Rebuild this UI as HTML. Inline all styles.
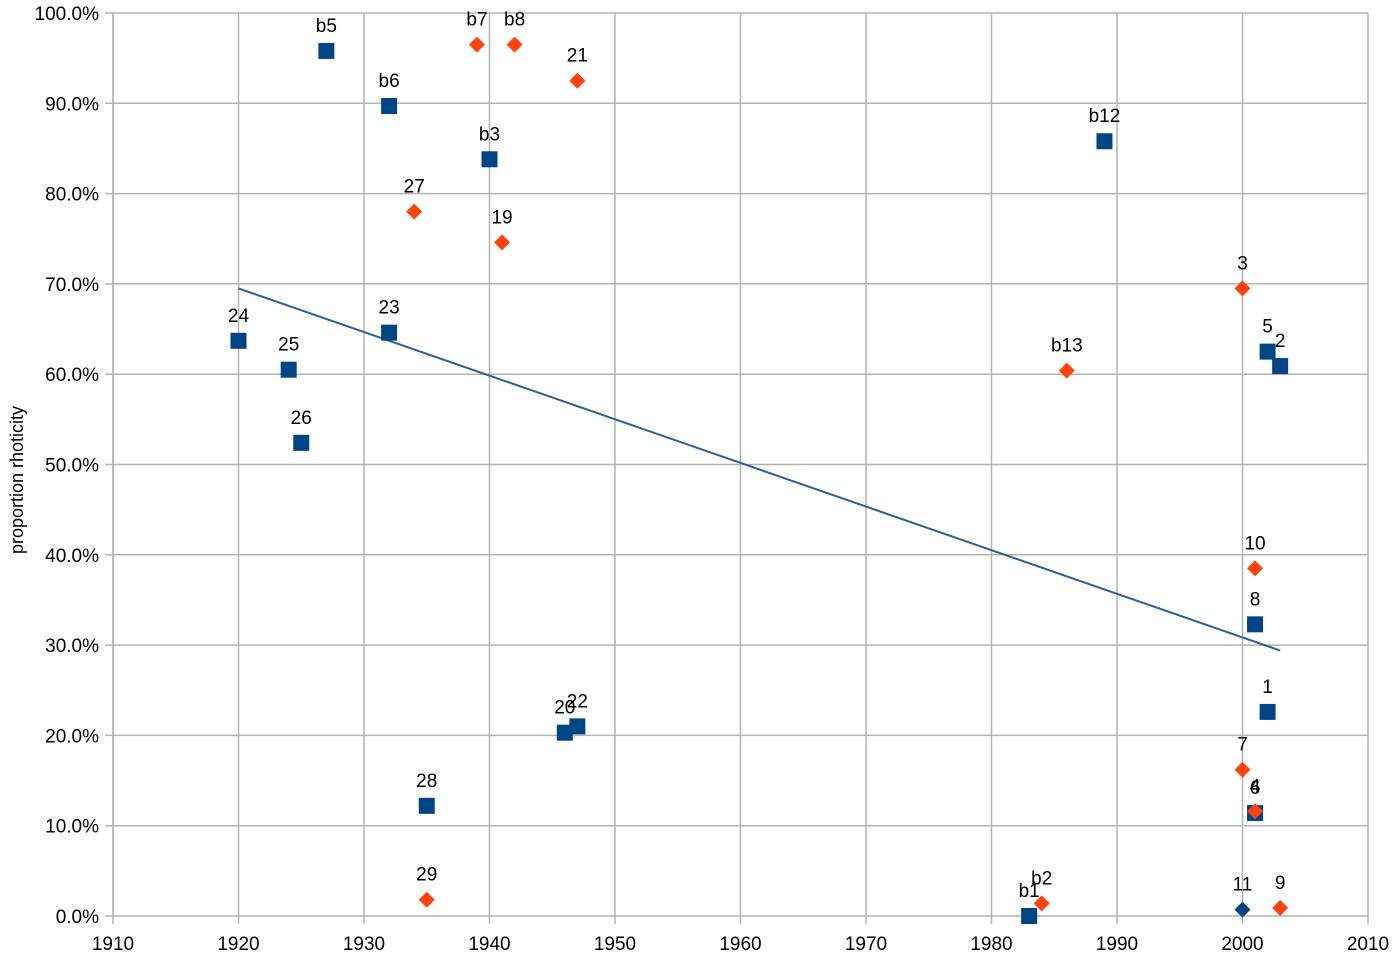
<!DOCTYPE html>
<html><head><meta charset="utf-8"><style>
body{margin:0;background:#fff;}
svg text{font-family:"Liberation Sans",sans-serif;fill:#000;}
</style></head><body>
<svg id="chart" width="1400" height="957" viewBox="0 0 1400 957" xmlns="http://www.w3.org/2000/svg">
<g id="grid"></g>
<g id="axes"></g>
<g id="marks"></g>
<text transform="translate(23,480) rotate(-90)" text-anchor="middle" font-size="18">proportion rhoticity</text>
</svg>
<script>
const xTicks=[1910,1920,1930,1940,1950,1960,1970,1980,1990,2000,2010];
const yTicks=[0,10,20,30,40,50,60,70,80,90,100];
const blueLabels=["b5","b6","b3","b12","24","25","26","23","20","22","28","b1","5","2","8","1","6"];
const blueX=[1927,1932,1940,1989,1920,1924,1925,1932,1946,1947,1935,1983,2002,2003,2001,2002,2001];
const blueY=[95.8,89.7,83.8,85.8,63.7,60.5,52.4,64.6,20.3,21,12.2,0,62.5,60.9,32.3,22.6,11.4];
const diaBlueLabels=["11"];
const diaBlueX=[2000];
const diaBlueY=[0.7];
const orangeLabels=["b7","b8","21","27","19","3","b13","10","7","4","29","b2","9"];
const orangeX=[1939,1942,1947,1934,1941,2000,1986,2001,2000,2001,1935,1984,2003];
const orangeY=[96.5,96.5,92.5,78,74.6,69.5,60.4,38.5,16.2,11.6,1.8,1.4,0.9];
const trendX=[1920,2003];
const trendY=[69.5,29.4];

const X=v=>113+(v-1910)*(1368-113)/100;
const Y=v=>916-v*(916-13)/100;
const NS="http://www.w3.org/2000/svg";
function mk(tag,parent,attrs){const e=document.createElementNS(NS,tag);for(const k in attrs)e.setAttribute(k,attrs[k]);parent.appendChild(e);return e;}
const grid=document.getElementById('grid'),axes=document.getElementById('axes'),marks=document.getElementById('marks');
xTicks.forEach(t=>{
  const l=mk('line',grid,{x1:X(t),x2:X(t),y1:13,y2:916,stroke:'#b3b3b3','stroke-width':1.5});
  
  
  const tk=mk('line',axes,{x1:X(t),x2:X(t),y1:916,y2:924,stroke:'#b3b3b3','stroke-width':1.5});
  
  
  const tx=mk('text',axes,{x:X(t),y:950,'text-anchor':'middle','font-size':19});
  tx.textContent=t;
  
  
});
yTicks.forEach(t=>{
  const l=mk('line',grid,{x1:113,x2:1368,y1:Y(t),y2:Y(t),stroke:'#b3b3b3','stroke-width':1.5});
  
  
  const tk=mk('line',axes,{x1:105,x2:113,y1:Y(t),y2:Y(t),stroke:'#b3b3b3','stroke-width':1.5});
  
  
  const tx=mk('text',axes,{x:99,y:Y(t)+7,'text-anchor':'end','font-size':19});
  tx.textContent=t.toFixed(1)+'%';
  
  
});
const tl=mk('line',marks,{x1:X(trendX[0]),y1:Y(trendY[0]),x2:X(trendX[1]),y2:Y(trendY[1]),stroke:'#2a6099','stroke-width':2});


function label(x,y,t){const tx=mk('text',marks,{x:x,y:y-19,'text-anchor':'middle','font-size':19});tx.textContent=t;
  
  }
blueX.forEach((v,i)=>{const cx=X(v),cy=Y(blueY[i]);
  const r=mk('rect',marks,{x:cx-8,y:cy-8,width:16,height:16,fill:'#004586'});
  
  
  label(cx,cy,blueLabels[i]);});
function diamond(cx,cy,col,name){const p=mk('polygon',marks,{points:`${cx},${cy-8} ${cx+8},${cy} ${cx},${cy+8} ${cx-8},${cy}`,fill:col});
  
  }
diaBlueX.forEach((v,i)=>{const cx=X(v),cy=Y(diaBlueY[i]);diamond(cx,cy,'#004586',diaBlueLabels[i]);label(cx,cy,diaBlueLabels[i]);});
orangeX.forEach((v,i)=>{const cx=X(v),cy=Y(orangeY[i]);diamond(cx,cy,'#ff420e',orangeLabels[i]);label(cx,cy,orangeLabels[i]);});
const ax=mk('line',axes,{x1:113,x2:113,y1:13,y2:916,stroke:'#b3b3b3','stroke-width':1.5});


</script>
</body></html>
